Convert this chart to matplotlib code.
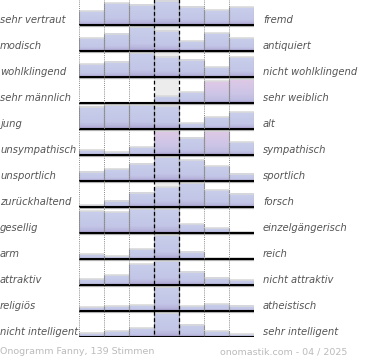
import matplotlib.pyplot as plt
from matplotlib.colors import LinearSegmentedColormap
import numpy as np

left_labels = ['sehr vertraut', 'modisch', 'wohlklingend', 'sehr männlich', 'jung',
               'unsympathisch', 'unsportlich', 'zurückhaltend', 'gesellig', 'arm',
               'attraktiv', 'religiös', 'nicht intelligent']
right_labels = ['fremd', 'antiquiert', 'nicht wohlklingend', 'sehr weiblich', 'alt',
                'sympathisch', 'sportlich', 'forsch', 'einzelgängerisch', 'reich',
                'nicht attraktiv', 'atheistisch', 'sehr intelligent']

# Anteil pro Stufe (max = 100)
values = [
    [57, 89, 82, 100, 75, 61, 72],
    [52, 70, 100, 82, 40, 73, 52],
    [53, 62, 100, 83, 70, 40, 81],
    [0, 0, 0, 28, 44, 90, 100],
    [91, 100, 100, 93, 24, 48, 69],
    [19, 12, 31, 100, 70, 100, 53],
    [38, 49, 71, 100, 84, 60, 29],
    [8, 25, 58, 81, 100, 69, 55],
    [88, 84, 100, 100, 36, 19, 4],
    [19, 11, 39, 100, 30, 3, 3],
    [23, 39, 84, 100, 55, 30, 19],
    [15, 19, 23, 100, 20, 27, 21],
    [16, 23, 36, 100, 51, 24, 11],
]
# Balken in Rosa (Zeile, Spalte)
pink_bars = [(3, 5), (3, 6), (5, 3), (5, 5)]

footer_left = 'Onogramm Fanny, 139 Stimmen'
footer_right = 'onomastik.com - 04 / 2025'

blue_cmap = LinearSegmentedColormap.from_list(
    'blue', [(0, '#a99dcf'), (0.12, '#b8b5dd'), (0.3, '#c3c6e7'), (1, '#c8ceeb')])
pink_cmap = LinearSegmentedColormap.from_list(
    'pink', [(0, '#a99dcf'), (0.12, '#bfbde2'), (0.4, '#cdc5e6'), (1, '#e0c9e7')])
grad = np.linspace(0, 1, 64).reshape(-1, 1)

fig = plt.figure(figsize=(3.7, 3.6), dpi=100)
ax = fig.add_axes([79 / 370, 23 / 360, 175 / 370, 338 / 360])
n_rows = len(values)
ax.set_xlim(0, 7)
ax.set_ylim(n_rows, 0)
ax.axis('off')

full = 0.94
for i, row in enumerate(values):
    base = i + 1
    # Hintergrund der Mittelspalte
    ax.fill_between([3, 4], base, base - full, color='#ececec', lw=0, zorder=1)
    for j, v in enumerate(row):
        h = v / 100 * full
        if h <= 0:
            continue
        cmap = pink_cmap if (i, j) in pink_bars else blue_cmap
        ax.imshow(grad, cmap=cmap, aspect='auto', origin='lower',
                  extent=(j, j + 1, base, base - h), zorder=2, interpolation='bilinear')
        ax.hlines(base - h, j, j + 1, color='#dadada', lw=1.2, zorder=3)
        ax.vlines([j, j + 1], base - h, base, color='#9a9a9a', lw=0.8, zorder=3)
    ax.hlines(base + 0.03, 0, 7, color='#b8b8b8', lw=0.9, zorder=4)
    ax.hlines(base, 0, 7, color='black', lw=1.5, zorder=5)

    ax.text(-79 / 25, base - 0.2, left_labels[i], ha='left', va='center',
            fontsize=7.2, style='italic', color='#555555')
    ax.text(7 + 9 / 25, base - 0.2, right_labels[i], ha='left', va='center',
            fontsize=7.2, style='italic', color='#555555')

for x in [0, 1, 2, 5, 6, 7]:
    ax.vlines(x, 0, n_rows, color='#888888', lw=0.7, linestyles=(0, (1, 1.2)), zorder=6)
for x in [3, 4]:
    ax.vlines(x, 0, n_rows, color='black', lw=0.9, linestyles=(0, (3, 2)), zorder=6)

fig.text(0.0, 1 - 352 / 360, footer_left, ha='left', va='center',
         fontsize=6.8, color='#bbbbbb')
fig.text(347 / 370, 1 - 352 / 360, footer_right, ha='right', va='center',
         fontsize=6.8, color='#bbbbbb')

fig.savefig('out.png', dpi=100)
